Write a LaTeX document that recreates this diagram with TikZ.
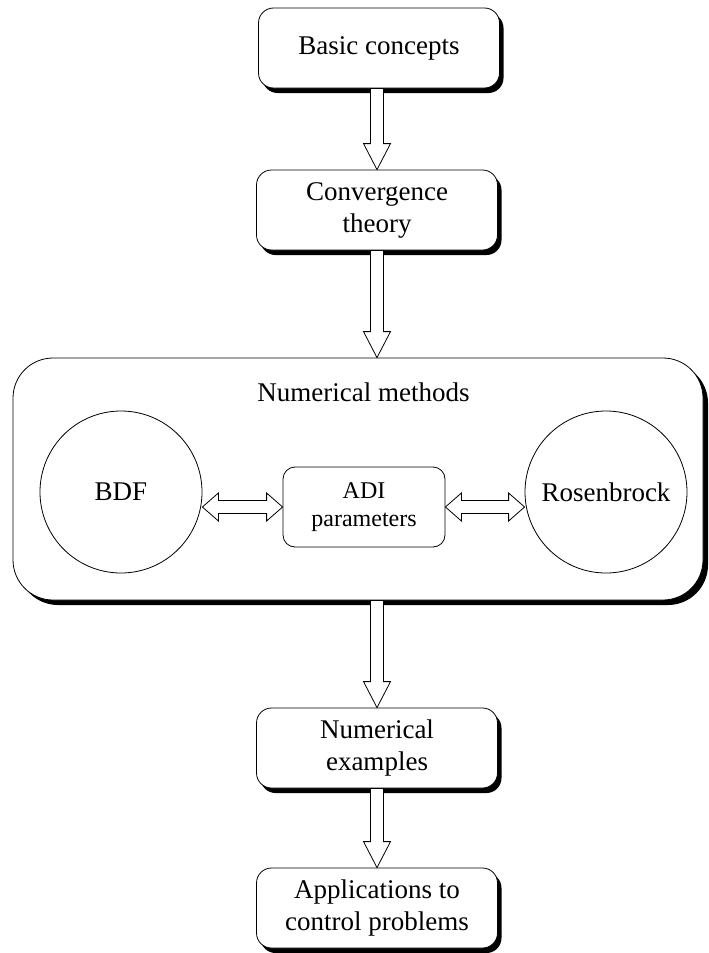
\documentclass[tikz,border=0pt]{standalone}
\usepackage{fontspec}
\setmainfont{Liberation Serif}
\usetikzlibrary{calc,shadows}

\begin{document}
\begin{tikzpicture}[
    x=0.5pt, y=-0.5pt,
    stage/.style={rectangle, draw, fill=white, rounded corners=7.5pt,
        minimum width=120.5pt, minimum height=40pt, align=center,
        font=\fontsize{13.5}{16}\selectfont,
        drop shadow={shadow xshift=2pt, shadow yshift=-2.5pt, fill=black, opacity=1}},
    group/.style={rectangle, draw, fill=white, rounded corners=20pt,
        minimum width=345pt, minimum height=121pt,
        drop shadow={shadow xshift=2.5pt, shadow yshift=-2.5pt, fill=black, opacity=1}},
    method/.style={circle, draw, fill=white, minimum size=81pt, inner sep=0pt,
        font=\fontsize{13.5}{16}\selectfont},
    param/.style={rectangle, draw, fill=white, rounded corners=6pt,
        minimum width=81pt, minimum height=40pt, align=center,
        font=\fontsize{12}{14}\selectfont},
    downarrow/.style={draw, fill=white, to path={
        ($(\tikztostart)!3.25pt!90:(\tikztotarget)$)
        -- ($(\tikztotarget)!13pt!(\tikztostart)!3.25pt!-90:(\tikztostart)$)
        -- ($(\tikztotarget)!13pt!(\tikztostart)!6.75pt!-90:(\tikztostart)$)
        -- (\tikztotarget)
        -- ($(\tikztotarget)!13pt!(\tikztostart)!6.75pt!90:(\tikztostart)$)
        -- ($(\tikztotarget)!13pt!(\tikztostart)!3.25pt!90:(\tikztostart)$)
        -- ($(\tikztostart)!3.25pt!-90:(\tikztotarget)$)
        -- cycle}},
    twoway/.style={draw, fill=white, to path={
        (\tikztostart)
        -- ($(\tikztostart)!8pt!(\tikztotarget)!7pt!90:(\tikztotarget)$)
        -- ($(\tikztostart)!8pt!(\tikztotarget)!3.25pt!90:(\tikztotarget)$)
        -- ($(\tikztotarget)!8pt!(\tikztostart)!3.25pt!-90:(\tikztostart)$)
        -- ($(\tikztotarget)!8pt!(\tikztostart)!7pt!-90:(\tikztostart)$)
        -- (\tikztotarget)
        -- ($(\tikztotarget)!8pt!(\tikztostart)!7pt!90:(\tikztostart)$)
        -- ($(\tikztotarget)!8pt!(\tikztostart)!3.25pt!90:(\tikztostart)$)
        -- ($(\tikztostart)!8pt!(\tikztotarget)!3.25pt!-90:(\tikztotarget)$)
        -- ($(\tikztostart)!8pt!(\tikztotarget)!7pt!-90:(\tikztotarget)$)
        -- cycle}}
]
\useasboundingbox (0,0) rectangle (708,953);

% main chain
\node[stage] (basics) at (379,48) {Basic concepts};
\node[stage] (conv) at (377,210) {Convergence\\theory};

% the methods block
\node[group] (methods) at (358,479) {};
\node[font=\fontsize{13.5}{16}\selectfont] (methodstitle) at (363.5,392) {Numerical methods};
\node[method] (bdf) at (121,492) {BDF};
\node[method] (rosen) at (606,492) {Rosenbrock};
\node[param] (adi) at (364,507) {ADI\\parameters};

\node[stage] (numex) at (377,748) {Numerical\\examples};
\node[stage] (appl) at (377,908) {Applications to\\control problems};

% arrows
\draw[downarrow] (basics.south -| conv.north) to (conv.north);
\draw[downarrow] (conv.south) to (methods.north -| conv.south);
\draw[downarrow] (methods.south -| numex.north) to (numex.north);
\draw[downarrow] (numex.south) to (appl.north);
\draw[twoway] (adi.west -| bdf.east) to (adi.west);
\draw[twoway] (adi.east) to (adi.east -| rosen.west);
\end{tikzpicture}
\end{document}
